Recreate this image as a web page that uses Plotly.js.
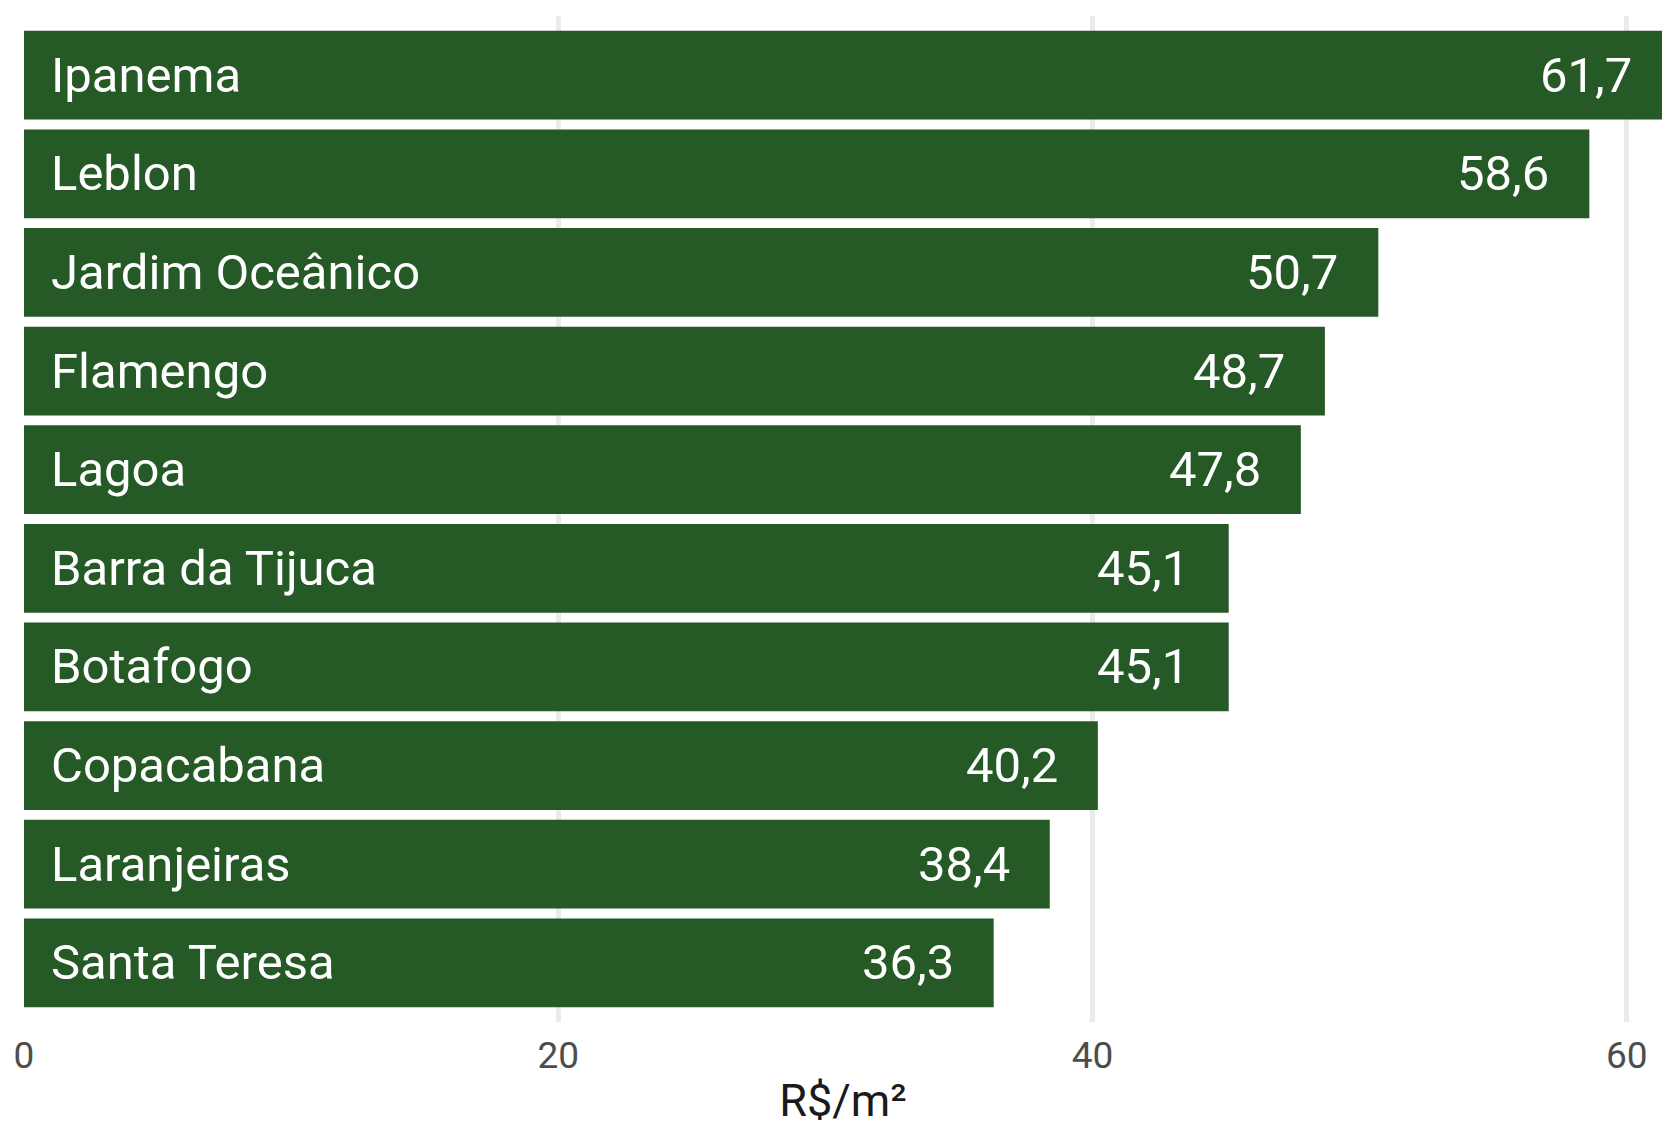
<!DOCTYPE html>
<html>
<head>
<meta charset="utf-8">
<script src="https://cdn.plot.ly/plotly-3.0.1.min.js"></script>
<style>html,body{margin:0;padding:0;background:#fff;}#chart{width:1662px;height:1127px;}</style>
</head>
<body>
<div id="chart"></div>
<script>
const bairros = ["Ipanema","Leblon","Jardim Oceânico","Flamengo","Lagoa","Barra da Tijuca","Botafogo","Copacabana","Laranjeiras","Santa Teresa"];
const valores = [61.7, 58.6, 50.7, 48.7, 47.8, 45.1, 45.1, 40.2, 38.4, 36.3];
const rotulos = ["61,7","58,6","50,7","48,7","47,8","45,1","45,1","40,2","38,4","36,3"];
const xTicks = [0, 20, 40, 60];
const xTitulo = "R$/m²";

const barColor = "#255926";
const font = "Roboto, sans-serif";
const xMax = 61.32;

const trace = {
  type: "bar",
  orientation: "h",
  y: bairros,
  x: valores,
  marker: {color: barColor, line: {width: 0}},
  hoverinfo: "none",
  cliponaxis: true
};

const annotations = [];
bairros.forEach((b, i) => {
  annotations.push({
    x: 0, y: b, xref: "x", yref: "y",
    text: b, showarrow: false, xanchor: "left", yanchor: "middle",
    xshift: 25, font: {family: font, size: 49, color: "#ffffff"}
  });
  annotations.push({
    x: valores[i] / xMax, y: b, xref: "paper", yref: "y",
    text: rotulos[i], showarrow: false, xanchor: "right", yanchor: "middle",
    xshift: -38, font: {family: font, size: 49, color: "#ffffff"}
  });
});

const layout = {
  width: 1662, height: 1127,
  margin: {l: 24, r: 0, t: 16, b: 105, pad: 0},
  paper_bgcolor: "#ffffff", plot_bgcolor: "#ffffff",
  bargap: 0.1,
  showlegend: false,
  font: {family: font},
  xaxis: {
    range: [0, xMax],
    tickvals: xTicks,
    ticktext: xTicks.map(String),
    showgrid: true, gridcolor: "#EBEBEB", gridwidth: 4.5,
    zeroline: false, showline: false, ticks: "",
    ticklabelstandoff: 8,
    tickfont: {family: font, size: 37, color: "#4D4D4D"},
    title: {text: xTitulo, font: {family: font, size: 45, color: "#1A1A1A"}, standoff: 15},
    fixedrange: true
  },
  yaxis: {
    type: "category",
    categoryorder: "array", categoryarray: bairros,
    range: [9.6, -0.6],
    showticklabels: false, showgrid: false, zeroline: false, showline: false, ticks: "",
    fixedrange: true
  },
  annotations: annotations
};

Plotly.newPlot("chart", [trace], layout, {staticPlot: true, displayModeBar: false});
</script>
</body>
</html>
